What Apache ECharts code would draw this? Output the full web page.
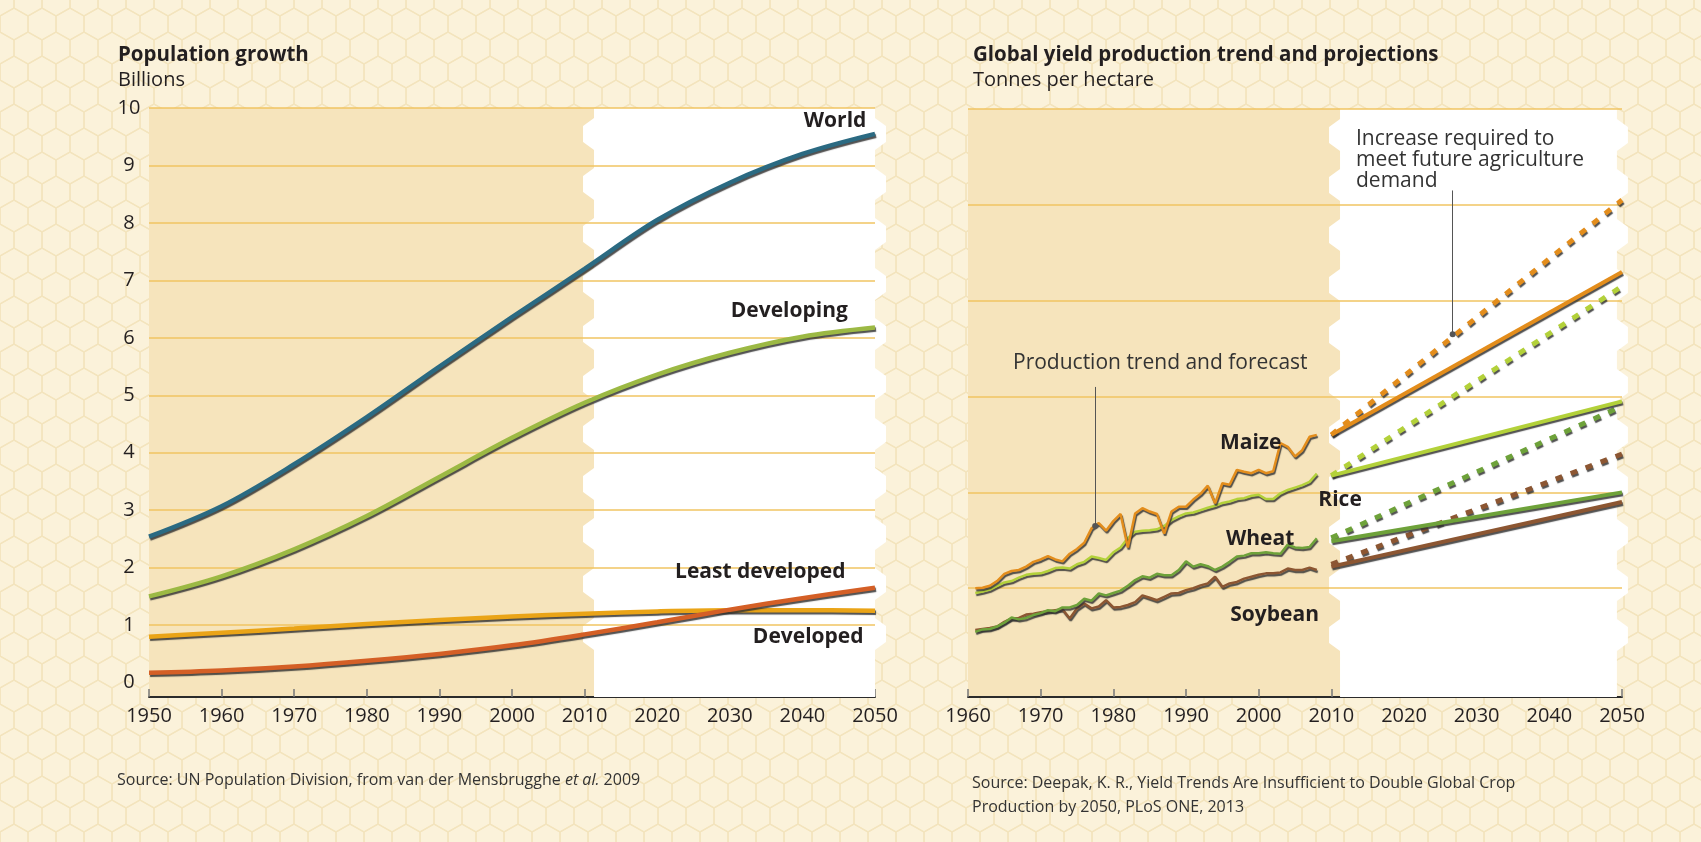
<!DOCTYPE html>
<html>
<head>
<meta charset="utf-8">
<title>Population growth and global yield trends</title>
<script src="https://cdn.jsdelivr.net/npm/echarts@6/dist/echarts.min.js"></script>
<style>
  html, body { margin: 0; padding: 0; background: #fbf2da; }
  #chart { width: 1701px; height: 842px; }
</style>
</head>
<body>
<div id="chart"></div>
<script>
// ---- population growth (billions) ----
const popYears = [1950, 1960, 1970, 1980, 1990, 2000, 2010, 2020, 2030, 2040, 2050];
const world = [2.54, 3.07, 3.8, 4.62, 5.5, 6.36, 7.2, 8.05, 8.7, 9.2, 9.55];
const developing = [1.5, 1.85, 2.32, 2.9, 3.58, 4.26, 4.87, 5.36, 5.74, 6.02, 6.18];
const leastDeveloped = [0.17, 0.21, 0.28, 0.38, 0.5, 0.65, 0.84, 1.05, 1.27, 1.47, 1.65];
const developed = [0.8, 0.87, 0.94, 1.02, 1.09, 1.15, 1.2, 1.24, 1.26, 1.26, 1.25];
const popGrid = [1, 2, 3, 4, 5, 6, 7, 8, 9, 10];

// ---- crop yields (tonnes per hectare), 1961-2008 ----
const yieldYears = [];
for (let y = 1961; y <= 2008; y++) yieldYears.push(y);
const maize = [2.0, 2.01, 2.05, 2.15, 2.3, 2.36, 2.38, 2.45, 2.55, 2.6,
  2.67, 2.6, 2.56, 2.72, 2.82, 2.95, 3.25, 3.36, 3.2, 3.4,
  3.55, 2.85, 3.56, 3.67, 3.6, 3.55, 3.14, 3.6, 3.7, 3.7,
  3.85, 3.97, 4.14, 3.77, 4.19, 4.16, 4.47, 4.43, 4.4, 4.47,
  4.4, 4.44, 5.03, 4.95, 4.75, 4.88, 5.16, 5.2];
const rice = [1.9, 1.93, 1.97, 2.05, 2.12, 2.15, 2.22, 2.28, 2.3, 2.31,
  2.36, 2.42, 2.43, 2.41, 2.5, 2.55, 2.66, 2.63, 2.59, 2.75,
  2.85, 3.05, 3.18, 3.2, 3.21, 3.23, 3.3, 3.42, 3.5, 3.56,
  3.58, 3.63, 3.68, 3.72, 3.78, 3.81, 3.86, 3.88, 3.93, 3.95,
  3.86, 3.86, 3.98, 4.05, 4.1, 4.15, 4.22, 4.39];
const wheat = [1.09, 1.14, 1.15, 1.2, 1.28, 1.39, 1.35, 1.38, 1.44, 1.48,
  1.54, 1.52, 1.6, 1.6, 1.65, 1.78, 1.74, 1.89, 1.85, 1.9,
  1.95, 2.05, 2.17, 2.25, 2.22, 2.3, 2.27, 2.27, 2.38, 2.56,
  2.45, 2.5, 2.46, 2.38, 2.45, 2.55, 2.66, 2.68, 2.73, 2.73,
  2.75, 2.73, 2.72, 2.91, 2.85, 2.84, 2.86, 3.04];
const soybean = [1.13, 1.15, 1.17, 1.2, 1.3, 1.37, 1.38, 1.45, 1.47, 1.5,
  1.52, 1.54, 1.56, 1.37, 1.58, 1.68, 1.58, 1.62, 1.75, 1.6,
  1.61, 1.65, 1.71, 1.85, 1.8, 1.75, 1.82, 1.89, 1.9, 1.96,
  2.0, 2.06, 2.1, 2.24, 2.03, 2.1, 2.13, 2.2, 2.24, 2.28,
  2.31, 2.31, 2.33, 2.41, 2.38, 2.38, 2.43, 2.38];

// projections 2010 -> 2050: current trend and required increase
const projYears = [2010, 2050];
const maizeTrend = [5.2, 8.6];
const maizeRequired = [5.2, 10.1];
const riceTrend = [4.35, 5.9];
const riceRequired = [4.35, 8.3];
const wheatTrend = [2.98, 4.0];
const wheatRequired = [3.05, 5.8];
const soyTrend = [2.45, 3.8];
const soyRequired = [2.5, 4.8];
const yieldGrid = [2, 4, 6, 8, 10, 12];

const zip = (xs, ys) => xs.map((x, i) => [x, ys[i]]);

// faint honeycomb for the page background
function hexPattern() {
  const w = 28, r = 16, h = 3 * r;
  const c = document.createElement('canvas');
  c.width = w; c.height = h;
  const ctx = c.getContext('2d');
  ctx.fillStyle = '#fbf2da';
  ctx.fillRect(0, 0, w, h);
  ctx.strokeStyle = '#f3e4bd';
  ctx.lineWidth = 1.3;
  for (let row = -1; row <= 3; row++) {
    for (let col = -1; col <= 2; col++) {
      const cx = col * w + (row % 2 ? w / 2 : 0);
      const cy = row * 1.5 * r;
      ctx.beginPath();
      ctx.moveTo(cx, cy - r);
      ctx.lineTo(cx + w / 2, cy - r / 2);
      ctx.lineTo(cx + w / 2, cy + r / 2);
      ctx.lineTo(cx, cy + r);
      ctx.lineTo(cx - w / 2, cy + r / 2);
      ctx.lineTo(cx - w / 2, cy - r / 2);
      ctx.closePath();
      ctx.stroke();
    }
  }
  return c;
}

const FONT = '"Open Sans", "Noto Sans", sans-serif';
const INK = '#231f20';
const GOLD = '#f0c462';
const TAN = '#f6e4bc';

function lineStyle(color, width, type) {
  return {
    color: color, width: width, type: type || 'solid', cap: 'butt',
    shadowColor: 'rgba(50,50,50,0.85)', shadowBlur: 1, shadowOffsetX: 1, shadowOffsetY: 2
  };
}

function tag(text, x, y) {
  return {
    symbol: 'circle', symbolSize: 1, silent: true,
    itemStyle: { color: 'rgba(0,0,0,0)' },
    label: { show: true, position: 'inside', formatter: text, color: INK, fontSize: 21, fontWeight: 'bold', fontFamily: FONT },
    data: [{ coord: [x, y] }]
  };
}

function tanArea(x0, x1, y0, y1) {
  return {
    silent: true, z: 0,
    itemStyle: { color: TAN },
    data: [[{ xAxis: x0, yAxis: y0 }, { xAxis: x1, yAxis: y1 }]]
  };
}

// white forecast panel with stamp-like bumps on its side edges
function stampPanel(idx, x0, x1, y0, y1) {
  return {
    type: 'custom', xAxisIndex: idx, yAxisIndex: idx, silent: true, clip: false, z: 0.5,
    encode: { x: [0, 1], y: [2, 3] },
    data: [[x0, x1, y0, y1]],
    renderItem: function (params, api) {
      const tl = api.coord([api.value(0), api.value(3)]);
      const br = api.coord([api.value(1), api.value(2)]);
      const P = 50, bump = 32, d = 11;
      const ys = [];
      for (let y = tl[1] + 10; y + bump < br[1]; y += P) ys.push(y);
      const pts = [[tl[0], tl[1]], [br[0], tl[1]]];
      ys.forEach(y => pts.push([br[0], y], [br[0] + d, y + 8], [br[0] + d, y + bump - 8], [br[0], y + bump]));
      pts.push([br[0], br[1]], [tl[0], br[1]]);
      ys.slice().reverse().forEach(y => pts.push([tl[0], y + bump], [tl[0] - d, y + bump - 8], [tl[0] - d, y + 8], [tl[0], y]));
      return { type: 'polygon', shape: { points: pts }, style: { fill: '#ffffff' } };
    }
  };
}

function gridLines(values) {
  return {
    silent: true, z: 1, symbol: 'none',
    label: { show: false },
    lineStyle: { color: GOLD, width: 1.5, type: 'solid' },
    data: values.map(v => ({ yAxis: v }))
  };
}

function popSeries(name, data, color, extra) {
  return Object.assign({
    name: name, type: 'line', xAxisIndex: 0, yAxisIndex: 0,
    data: zip(popYears, data), smooth: 0.35, showSymbol: false, symbol: 'none',
    lineStyle: lineStyle(color, 4.5), z: 3
  }, extra || {});
}

function cropSeries(name, xs, data, color, width, type, extra) {
  return Object.assign({
    name: name, type: 'line', xAxisIndex: 1, yAxisIndex: 1,
    data: zip(xs, data), showSymbol: false, symbol: 'none',
    lineStyle: lineStyle(color, width, type), z: 3
  }, extra || {});
}

const MAIZE = '#e38d1c', RICE = '#b3d13a', WHEAT = '#6ea23a', SOY = '#8c5632';

const axisLabelStyle = { color: INK, fontSize: 20, fontFamily: FONT };

function yearAxis(idx, min) {
  return {
    gridIndex: idx, type: 'value', min: min, max: 2050, interval: 10,
    axisLine: { onZero: false, lineStyle: { color: '#2b2b2b', width: 2 } },
    axisTick: { inside: true, length: 8, lineStyle: { color: '#777', width: 1.5 } },
    axisLabel: Object.assign({ margin: 9, formatter: v => String(v) }, axisLabelStyle),
    splitLine: { show: false }
  };
}

const option = {
  animation: false,
  backgroundColor: { image: hexPattern(), repeat: 'repeat' },
  grid: [
    { left: 149, right: 826, top: 108, bottom: 145 },
    { left: 968, right: 79, top: 109, bottom: 145 }
  ],
  xAxis: [yearAxis(0, 1950), yearAxis(1, 1960)],
  yAxis: [
    {
      gridIndex: 0, type: 'value', min: -0.25, max: 10, minInterval: 1, maxInterval: 1,
      axisLine: { show: false }, axisTick: { show: false }, splitLine: { show: false },
      axisLabel: Object.assign({ align: 'center', margin: 20, padding: [8, 0, 0, 0], formatter: v => (v < 0 ? '' : String(v)) }, axisLabelStyle)
    },
    {
      gridIndex: 1, type: 'value', min: -0.27, max: 12,
      axisLine: { show: false }, axisTick: { show: false }, splitLine: { show: false },
      axisLabel: { show: false }
    }
  ],
  series: [
    stampPanel(0, 2011.3, 2050, -0.25, 10),
    stampPanel(1, 2011.2, 2049.3, -0.27, 12),

    popSeries('World', world, '#2b6a82', { markArea: tanArea(1950, 2011.3, -0.25, 10), markLine: gridLines(popGrid), markPoint: tag('World', 2044.5, 9.78) }),
    popSeries('Developing', developing, '#9cb944', { markPoint: tag('Developing', 2038.2, 6.46) }),
    popSeries('Developed', developed, '#eaa417', { markPoint: tag('Developed', 2040.8, 0.8) }),
    popSeries('Least developed', leastDeveloped, '#d45f26', { markPoint: tag('Least developed', 2034.2, 1.93) }),

    cropSeries('Soybean', yieldYears, soybean, SOY, 2.5, 'solid', {
      markArea: tanArea(1960, 2011.2, -0.27, 12), markLine: gridLines(yieldGrid), markPoint: tag('Soybean', 2002.2, 1.44)
    }),
    cropSeries('Wheat', yieldYears, wheat, WHEAT, 2.5, 'solid', { markPoint: tag('Wheat', 2000.2, 3.03) }),
    cropSeries('Rice', yieldYears, rice, RICE, 2.5, 'solid', { markPoint: tag('Rice', 2011.2, 3.84) }),
    cropSeries('Maize', yieldYears, maize, MAIZE, 2.5, 'solid', {
      markPoint: tag('Maize', 1998.9, 5.04),
      markLine: {
        silent: true, z: 6, symbol: ['circle', 'none'], symbolSize: 6,
        label: { show: false },
        lineStyle: { color: '#555', width: 1, type: 'solid' },
        data: [
          [{ coord: [1977.5, 3.3] }, { coord: [1977.5, 6.2] }],
          [{ coord: [2026.7, 7.3] }, { coord: [2026.7, 10.3] }]
        ]
      }
    }),

    cropSeries('Soybean required', projYears, soyRequired, SOY, 5, [7, 9]),
    cropSeries('Wheat required', projYears, wheatRequired, WHEAT, 5, [7, 9]),
    cropSeries('Rice required', projYears, riceRequired, RICE, 5, [7, 9]),
    cropSeries('Maize required', projYears, maizeRequired, MAIZE, 5, [7, 9]),
    cropSeries('Soybean trend', projYears, soyTrend, SOY, 4),
    cropSeries('Wheat trend', projYears, wheatTrend, WHEAT, 4),
    cropSeries('Rice trend', projYears, riceTrend, RICE, 4),
    cropSeries('Maize trend', projYears, maizeTrend, MAIZE, 4)
  ],
  graphic: [
    { type: 'text', left: 118, top: 45, style: { text: 'Population growth', font: 'bold 20.5px ' + FONT, fill: INK } },
    { type: 'text', left: 118, top: 70, style: { text: 'Billions', font: '20px ' + FONT, fill: INK } },
    { type: 'text', left: 973, top: 45, style: { text: 'Global yield production trend and projections', font: 'bold 20.5px ' + FONT, fill: INK } },
    { type: 'text', left: 973, top: 70, style: { text: 'Tonnes per hectare', font: '20px ' + FONT, fill: INK } },
    { type: 'text', left: 1013, top: 353, z: 10, style: { text: 'Production trend and forecast', font: '21px ' + FONT, fill: '#333' } },
    { type: 'text', left: 1356, top: 129, z: 10, style: { text: 'Increase required to\nmeet future agriculture\ndemand', font: '21px ' + FONT, lineHeight: 21, fill: '#333' } },
    {
      type: 'text', left: 117, top: 772,
      style: {
        text: 'Source: UN Population Division, from van der Mensbrugghe {it|et al.} 2009',
        font: '16px ' + FONT, fill: '#333',
        rich: { it: { fontStyle: 'italic', fontSize: 16, fontFamily: FONT, fill: '#333' } }
      }
    },
    {
      type: 'text', left: 972, top: 771,
      style: {
        text: 'Source: Deepak, K. R., Yield Trends Are Insufficient to Double Global Crop\nProduction by 2050, PLoS ONE, 2013',
        font: '16px ' + FONT, lineHeight: 24, fill: '#333'
      }
    }
  ]
};

const chart = echarts.init(document.getElementById('chart'));
chart.setOption(option);
</script>
</body>
</html>
